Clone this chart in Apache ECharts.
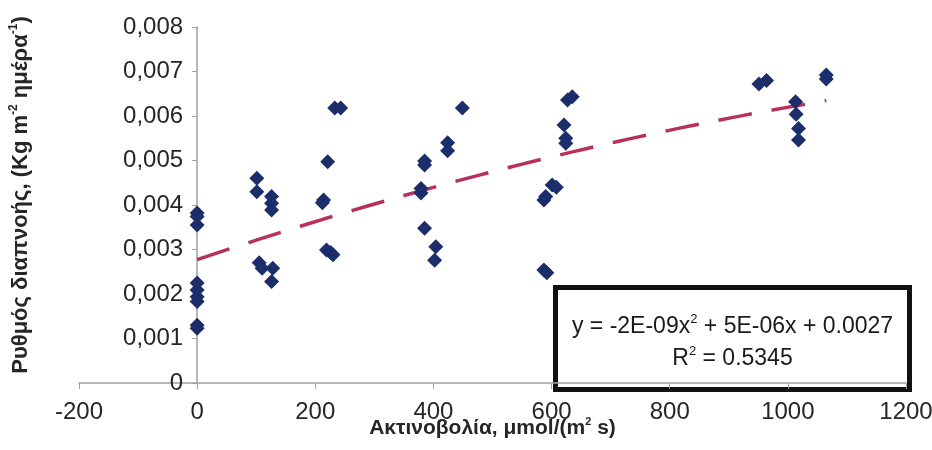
<!DOCTYPE html>
<html>
<head>
<meta charset="utf-8">
<script src="https://cdn.jsdelivr.net/npm/echarts@6/dist/echarts.min.js"></script>
<style>html,body{margin:0;padding:0;background:#fff}#c{width:932px;height:450px}</style>
</head>
<body>
<div id="c"></div>
<script>
// Radiation (x) values, µmol/(m² s)
const radiation = [
  0, 0, 0, 0, 0, 0, 0, 0, 0,
  101, 101, 126, 126, 126, 105, 110, 128, 126,
  214, 212, 221, 219, 226, 230, 233, 243,
  385, 385, 379, 379, 385, 404, 402, 424, 424, 449,
  627, 635, 621, 624, 624, 601, 608, 587, 590, 587, 592,
  951, 964, 1013, 1014, 1018, 1018, 1065, 1065
];
// Transpiration rate (y) values, Kg m-2 day-1
const transpiration = [
  0.00382, 0.00374, 0.00355, 0.00225, 0.00209, 0.00194, 0.00183, 0.00130, 0.00123,
  0.00460, 0.00430, 0.00419, 0.00404, 0.00389, 0.00270, 0.00258, 0.00258, 0.00228,
  0.00411, 0.00405, 0.00497, 0.00299, 0.00293, 0.00288, 0.00618, 0.00618,
  0.00499, 0.00490, 0.00437, 0.00427, 0.00348, 0.00306, 0.00276, 0.00540, 0.00522, 0.00618,
  0.00636, 0.00643, 0.00580, 0.00550, 0.00539, 0.00445, 0.00440, 0.00411, 0.00419, 0.00254, 0.00248,
  0.00672, 0.00680, 0.00632, 0.00604, 0.00572, 0.00546, 0.00692, 0.00683
];
const xTicks = { min: -200, max: 1200, interval: 200 };
const yTicks = { min: 0, max: 0.008, interval: 0.001 };
const equationLine = ['y = -2E-09x', '2', ' + 5E-06x + 0.0027'];
const r2Line = ['R', '2', ' = 0.5345'];

// Least-squares quadratic trendline computed from the data
function quadFit(xs, ys) {
  let n = xs.length, s = [0,0,0,0,0], t = [0,0,0];
  for (let i = 0; i < n; i++) {
    const x = xs[i], y = ys[i];
    let p = 1;
    for (let k = 0; k < 5; k++) { s[k] += p; if (k < 3) t[k] += p * y; p *= x; }
  }
  const A = [[s[0], s[1], s[2], t[0]], [s[1], s[2], s[3], t[1]], [s[2], s[3], s[4], t[2]]];
  for (let i = 0; i < 3; i++) {
    for (let j = i + 1; j < 3; j++) {
      const f = A[j][i] / A[i][i];
      for (let k = i; k < 4; k++) A[j][k] -= f * A[i][k];
    }
  }
  const c = [0,0,0];
  for (let i = 2; i >= 0; i--) {
    let v = A[i][3];
    for (let k = i + 1; k < 3; k++) v -= A[i][k] * c[k];
    c[i] = v / A[i][i];
  }
  return c; // c0 + c1 x + c2 x^2
}
const coef = quadFit(radiation, transpiration);
const xMinData = Math.min(...radiation), xMaxData = Math.max(...radiation);
const trend = [];
for (let i = 0; i <= 60; i++) {
  const x = xMinData + (xMaxData - xMinData) * i / 60;
  trend.push([x, coef[0] + coef[1] * x + coef[2] * x * x]);
}

const FONT = '"Liberation Sans", Arial, sans-serif';
const nameRichX = {
  b: { fontSize: 21, fontWeight: 'bold', color: '#262626', fontFamily: FONT, lineHeight: 24 },
  s: { fontSize: 11, fontWeight: 'bold', color: '#262626', fontFamily: FONT, verticalAlign: 'top', lineHeight: 13 }
};
const nameRichY = {
  b: { fontSize: 22, fontWeight: 'bold', color: '#262626', fontFamily: FONT, lineHeight: 25 },
  s: { fontSize: 12, fontWeight: 'bold', color: '#262626', fontFamily: FONT, verticalAlign: 'top', lineHeight: 14 }
};
const boxRich = {
  a: { fontSize: 23, fill: '#1a1a1a', fontFamily: FONT, lineHeight: 27 },
  s: { fontSize: 13, fill: '#1a1a1a', fontFamily: FONT, verticalAlign: 'top', lineHeight: 15 }
};
const GRID_LEFT = 79, GRID_RIGHT = 26;
const plotW = 932 - GRID_LEFT - GRID_RIGHT;
const zeroOffset = plotW * (0 - xTicks.min) / (xTicks.max - xTicks.min);

const chart = echarts.init(document.getElementById('c'), null, { renderer: 'canvas' });
chart.setOption({
  backgroundColor: '#ffffff',
  animation: false,
  textStyle: { fontFamily: FONT },
  grid: { left: GRID_LEFT, right: GRID_RIGHT, top: 27, bottom: 67, containLabel: false, outerBoundsMode: 'none' },
  xAxis: {
    type: 'value', min: xTicks.min, max: xTicks.max, interval: xTicks.interval,
    splitLine: { show: false },
    axisLine: { lineStyle: { color: '#a0a0a0', width: 1.5 } },
    axisTick: { show: true, length: 6, lineStyle: { color: '#a0a0a0' } },
    axisLabel: { fontSize: 24, color: '#262626', margin: 17, fontFamily: FONT, formatter: v => String(v) },
    name: '{b|Ακτινοβολία, μmol/(m}{s|2}{b| s)}',
    nameLocation: 'middle', nameGap: 33, nameMoveOverlap: false,
    nameTextStyle: { rich: nameRichX }
  },
  yAxis: {
    type: 'value', min: yTicks.min, max: yTicks.max, interval: yTicks.interval,
    position: 'left', offset: -zeroOffset,
    splitLine: { show: false },
    axisLine: { onZero: false, lineStyle: { color: '#a0a0a0', width: 1.5 } },
    axisTick: { show: true, length: 5, lineStyle: { color: '#a0a0a0' } },
    axisLabel: {
      fontSize: 24, color: '#262626', margin: 14, fontFamily: FONT,
      formatter: v => v === 0 ? '0' : v.toFixed(3).replace('.', ',')
    },
    name: '{b|Ρυθμός διαπνοής, (Kg m}{s|-2}{b| ημέρα}{s|-1}{b|)}',
    nameLocation: 'middle', nameGap: 164, nameRotate: 90, nameMoveOverlap: false,
    nameTextStyle: { rich: nameRichY, padding: [0, 0, 0, 20] }
  },
  series: [
    {
      type: 'scatter', data: radiation.map((x, i) => [x, transpiration[i]]),
      symbol: 'diamond', symbolSize: [15, 15],
      itemStyle: { color: '#1c2d6b', opacity: 1 }, z: 3
    },
    {
      type: 'line', data: trend, showSymbol: false, smooth: false,
      lineStyle: { color: '#b8305e', width: 3.5, type: [34, 20], cap: 'butt' }, z: 2
    }
  ],
  graphic: [
    {
      type: 'group', left: 553, top: 285, z: 100,
      children: [
        { type: 'rect', shape: { x: 0, y: 0, width: 354, height: 102 },
          style: { fill: '#ffffff', stroke: '#111111', lineWidth: 5 } },
        { type: 'text', x: 177, y: 39,
          style: {
            text: '{a|' + equationLine[0] + '}{s|' + equationLine[1] + '}{a|' + equationLine[2] + '}',
            align: 'center', verticalAlign: 'middle', rich: boxRich
          } },
        { type: 'text', x: 177, y: 71,
          style: {
            text: '{a|' + r2Line[0] + '}{s|' + r2Line[1] + '}{a|' + r2Line[2] + '}',
            align: 'center', verticalAlign: 'middle', rich: boxRich
          } }
      ]
    }
  ]
});
</script>
</body>
</html>
